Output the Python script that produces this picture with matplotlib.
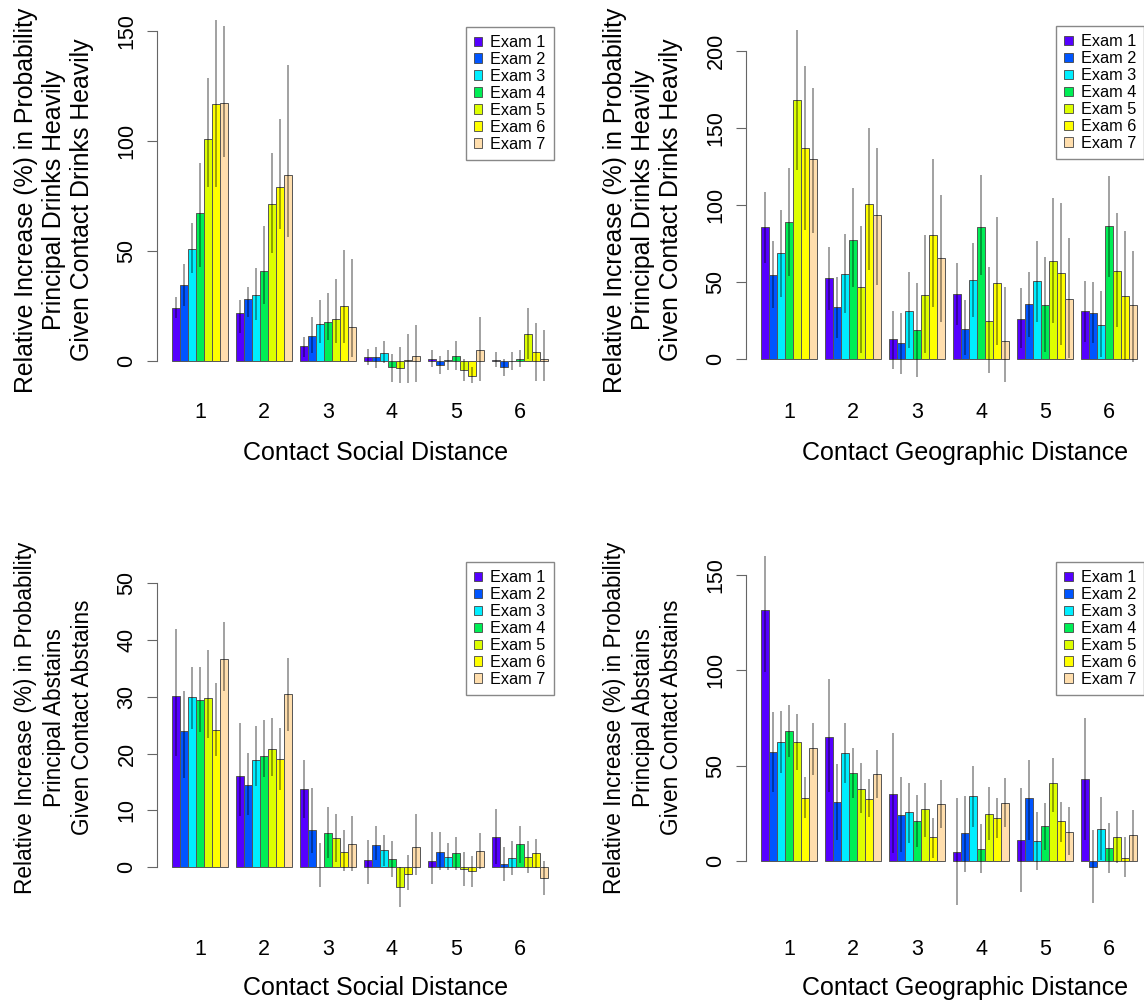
import matplotlib
matplotlib.use('Agg')
import matplotlib.pyplot as plt
import numpy as np
from matplotlib.patches import Patch

plt.rcParams['font.family'] = ['Liberation Sans', 'DejaVu Sans']

# %% data: rows = distance 1..6, columns = Exam 1..7
exams = ['Exam 1', 'Exam 2', 'Exam 3', 'Exam 4', 'Exam 5', 'Exam 6', 'Exam 7']
distances = ['1', '2', '3', '4', '5', '6']
colors = ['#5500FF', '#0055FF', '#00EEFF', '#00EE55', '#DDFF00', '#FFFF00', '#FFDEAD']

social_heavy = [[24.1, 34.4, 50.8, 67.0, 100.6, 116.8, 117.0],
                [21.5, 28.0, 29.8, 40.8, 71.2, 79.1, 84.5],
                [6.7, 11.4, 16.5, 17.7, 18.8, 25.0, 15.2],
                [1.8, 1.5, 3.6, -3.0, -3.5, 0.3, 2.3],
                [1.0, -2.0, 0.5, 2.0, -4.0, -7.0, 5.0],
                [0.5, -2.7, 0.0, 1.0, 12.0, 4.0, 1.0]]
social_heavy_lo = [[19.4, 25.0, 39.7, 42.7, 79.0, 79.0, 92.7],
                   [12.4, 20.0, 18.5, 26.0, 48.8, 59.7, 56.4],
                   [1.8, 3.3, 7.9, 9.4, 7.9, 7.9, 1.8],
                   [-2.0, -3.5, -1.2, -9.5, -10.0, -10.3, -9.8],
                   [-3.0, -6.0, -4.0, -4.0, -9.0, -10.0, -9.0],
                   [-3.0, -7.0, -4.0, -3.0, 1.0, -9.0, -9.0]]
social_heavy_hi = [[28.8, 43.9, 62.4, 89.7, 128.6, 154.8, 152.3],
                   [27.6, 33.6, 42.0, 61.2, 94.5, 110.0, 134.4],
                   [10.9, 20.0, 27.6, 30.9, 37.3, 50.3, 46.2],
                   [5.3, 6.4, 8.9, 2.9, 6.4, 12.0, 16.2],
                   [5.0, 2.0, 5.0, 9.0, 1.0, -3.0, 20.0],
                   [4.0, 1.0, 4.0, 5.0, 24.0, 17.0, 14.0]]

geo_heavy = [[85.5, 54.5, 69.0, 89.0, 168.2, 136.8, 130.0],
             [52.4, 34.0, 55.2, 77.3, 47.0, 100.6, 93.5],
             [12.8, 10.2, 31.4, 18.8, 41.8, 80.3, 65.4],
             [42.2, 19.3, 51.3, 85.5, 24.7, 49.6, 11.7],
             [26.2, 35.7, 50.9, 35.1, 63.6, 55.6, 38.7],
             [31.2, 30.1, 22.1, 86.4, 57.1, 40.9, 34.8]]
geo_heavy_lo = [[62.1, 32.9, 40.5, 53.9, 122.7, 83.8, 82.0],
                [31.8, 13.4, 29.7, 47.0, 3.7, 57.8, 48.0],
                [-6.5, -9.7, 6.9, -11.5, 3.7, 34.0, 24.2],
                [22.1, 2.6, 27.5, 54.5, -9.3, 9.1, -14.7],
                [6.9, 14.5, 24.2, 4.8, 23.2, 9.1, 0.4],
                [11.3, 10.2, 1.5, 53.5, 21.0, -0.6, -1.7]]
geo_heavy_hi = [[108.7, 76.6, 96.8, 123.8, 213.6, 190.3, 176.2],
                [72.9, 53.5, 81.0, 111.3, 86.4, 150.2, 137.2],
                [31.4, 29.7, 56.7, 49.6, 80.5, 129.7, 106.3],
                [62.6, 38.3, 75.5, 119.5, 59.5, 92.0, 47.0],
                [45.9, 56.7, 76.6, 66.5, 104.3, 101.1, 78.4],
                [50.9, 50.2, 44.4, 118.8, 95.0, 83.1, 70.1]]

social_abstain = [[30.2, 23.9, 29.9, 29.5, 29.8, 24.1, 36.6],
                  [16.1, 14.4, 18.9, 19.6, 20.8, 19.1, 30.5],
                  [13.8, 6.5, 0.0, 5.9, 5.1, 2.6, 4.0],
                  [1.2, 3.9, 3.0, 1.4, -3.5, -1.2, 3.6],
                  [1.1, 2.7, 1.8, 2.4, -0.3, -0.8, 2.8],
                  [5.3, 0.5, 1.5, 4.0, 1.8, 2.5, -2.0]]
social_abstain_lo = [[19.5, 15.6, 24.4, 23.8, 22.7, 19.5, 31.1],
                     [8.9, 9.2, 14.2, 15.9, 16.1, 13.6, 23.9],
                     [8.6, 2.4, -3.5, 1.5, 0.9, -0.8, -0.8],
                     [-3.0, 1.2, 0.1, -1.7, -7.0, -4.0, -1.4],
                     [-3.0, -0.5, -0.6, -0.5, -3.3, -3.5, -0.3],
                     [0.5, -2.5, -1.5, 0.7, -1.0, -0.2, -5.0]]
social_abstain_hi = [[42.0, 31.1, 35.2, 35.2, 38.3, 32.5, 43.2],
                     [25.4, 20.1, 24.9, 25.9, 26.2, 24.5, 36.9],
                     [18.9, 13.9, 4.2, 10.5, 9.4, 6.6, 9.0],
                     [4.8, 7.2, 5.6, 4.5, 0.0, 2.1, 9.4],
                     [6.1, 6.1, 4.2, 5.2, 2.7, 2.0, 6.0],
                     [10.3, 3.5, 4.5, 7.3, 4.5, 5.0, 1.0]]

geo_abstain = [[131.4, 56.9, 62.5, 68.2, 62.1, 33.2, 59.0],
               [65.1, 30.7, 56.4, 45.9, 37.5, 32.6, 45.5],
               [35.1, 23.9, 25.5, 20.9, 27.0, 12.4, 29.8],
               [4.9, 14.5, 34.0, 6.3, 24.4, 22.7, 30.2],
               [11.0, 33.2, 10.5, 18.3, 40.7, 20.9, 15.4],
               [42.9, -3.0, 16.8, 6.6, 12.4, 1.7, 13.6]]
geo_abstain_lo = [[99.1, 36.3, 45.9, 54.6, 47.6, 22.3, 45.0],
                  [36.3, 11.0, 40.7, 32.8, 25.0, 23.2, 33.2],
                  [4.0, 4.9, 9.2, 7.5, 12.7, 1.4, 17.1],
                  [-23.0, -5.6, 18.0, -6.1, 11.0, 11.9, 18.0],
                  [-16.0, 11.0, -4.7, 5.8, 25.8, 10.1, 3.1],
                  [11.0, -22.0, 0.5, -6.5, -1.2, -8.2, 0.0]]
geo_abstain_hi = [[159.9, 78.2, 78.7, 81.7, 76.8, 44.2, 72.4],
                  [95.1, 50.8, 72.4, 59.0, 51.5, 42.8, 58.1],
                  [66.8, 43.8, 41.0, 34.4, 41.0, 22.7, 42.4],
                  [33.2, 34.0, 49.7, 19.4, 38.6, 33.2, 43.3],
                  [38.0, 52.9, 25.8, 30.2, 54.1, 31.1, 28.1],
                  [74.9, 16.2, 33.3, 20.1, 26.4, 12.4, 26.7]]

ylab_heavy = ('Relative Increase (%) in Probability\nPrincipal Drinks Heavily\n'
              'Given Contact Drinks Heavily')
ylab_abstain = ('Relative Increase (%) in Probability\nPrincipal Abstains\n'
                'Given Contact Abstains')

W, H = 1144, 1002
fig = plt.figure(figsize=(W / 100, H / 100), dpi=100)


def panel(left, top, bottom, est, lo, hi, ylim, yticks, ylabel, xlabel,
          ylab_size, xpad, xlab_y, leg_anchor):
    # axes placed in pixel coords of the reference
    ax = fig.add_axes([left / W, 1 - bottom / H, 438 / W, (bottom - top) / H])
    est, lo, hi = np.array(est), np.array(lo), np.array(hi)
    ngrp, nex = est.shape
    x0 = 1 + 8 * np.arange(ngrp)  # R barplot: 7 bars + 1 space per group
    for j in range(nex):
        ax.bar(x0 + j, est[:, j], width=1, align='edge', color=colors[j],
               edgecolor='#555555', linewidth=0.7, zorder=2)
    for j in range(nex):
        ax.vlines(x0 + j + 0.5, lo[:, j], hi[:, j], color=(0, 0, 0, 0.4),
                  linewidth=1.3, zorder=3, clip_on=False)
    ax.set_xlim(-0.875, 53.875)
    ax.set_ylim(*ylim)
    for s in ['top', 'right', 'bottom']:
        ax.spines[s].set_visible(False)
    ax.spines['left'].set_bounds(yticks[0], yticks[-1])
    ax.spines['left'].set_color('#666666')
    ax.set_yticks(yticks)
    ax.tick_params(axis='y', length=7, color='#666666', labelsize=15.5,
                   pad=7, labelrotation=90)
    for lbl in ax.get_yticklabels():
        lbl.set_va('center')
    ax.set_xticks(x0 + 3.5)
    ax.set_xticklabels(distances)
    ax.tick_params(axis='x', length=0, labelsize=15.5, pad=xpad)
    ax.set_xlabel(xlabel, fontsize=18, va='top')
    ax.xaxis.set_label_coords(0.5, xlab_y)
    ax.set_ylabel(ylabel, fontsize=ylab_size, va='center', ha='center',
                  linespacing=30 / (ylab_size * 1.389))
    ax.yaxis.set_label_coords(-0.235, 0.5)
    handles = [Patch(facecolor=c, edgecolor='#444444', linewidth=0.6)
               for c in colors]
    leg = ax.legend(handles, exams, loc='upper right', bbox_to_anchor=leg_anchor,
                    borderaxespad=0, fontsize=11.7, handlelength=0.5,
                    handleheight=0.5, handletextpad=0.5, labelspacing=0.12,
                    borderpad=0.5, fancybox=False, framealpha=1)
    leg.get_frame().set_edgecolor('#888888')
    leg.get_frame().set_linewidth(1)
    return ax


panel(157, 8, 392, social_heavy, social_heavy_lo, social_heavy_hi,
      (-14.2, 160.3), [0, 50, 100, 150], ylab_heavy, 'Contact Social Distance',
      17.9, 7.2, -0.128, (0.906, 0.951))
panel(746, 8, 392, geo_heavy, geo_heavy_lo, geo_heavy_hi,
      (-21.4, 227.9), [0, 50, 100, 150, 200], ylab_heavy,
      'Contact Geographic Distance', 17.9, 7.2, -0.128, (0.909, 0.953))
panel(157, 525.5, 909.5, social_abstain, social_abstain_lo, social_abstain_hi,
      (-7.5, 60.2), [0, 10, 20, 30, 40, 50], ylab_abstain,
      'Contact Social Distance', 16.3, 21, -0.173, (0.906, 0.905))
panel(746, 525.5, 909.5, geo_abstain, geo_abstain_lo, geo_abstain_hi,
      (-25.4, 175.7), [0, 50, 100, 150], ylab_abstain,
      'Contact Geographic Distance', 16.3, 21, -0.173, (0.909, 0.905))

fig.savefig('out.png', dpi=100)
